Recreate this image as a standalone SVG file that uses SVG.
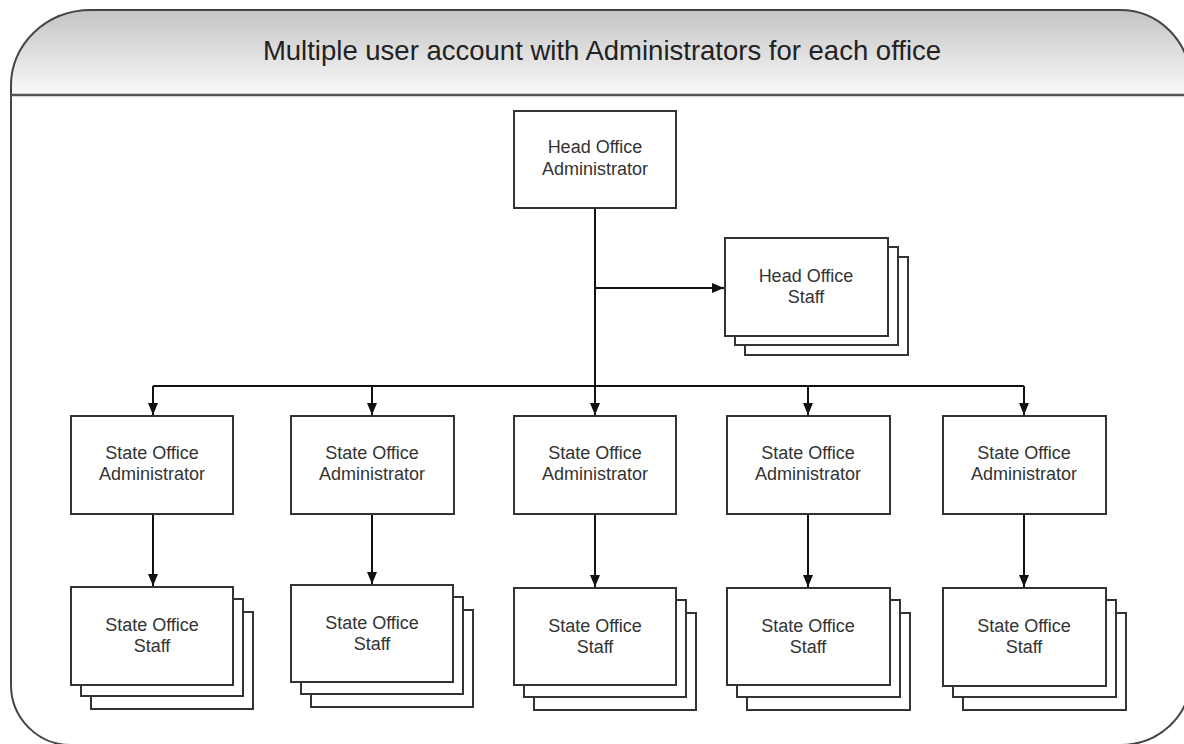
<svg xmlns="http://www.w3.org/2000/svg" width="1184" height="744" viewBox="0 0 1184 744">
<defs>
<linearGradient id="hdr" x1="0" y1="0" x2="0" y2="1">
<stop offset="0" stop-color="#c4c4c4"/>
<stop offset="1" stop-color="#f9f9f9"/>
</linearGradient>
<marker id="arr" markerUnits="userSpaceOnUse" markerWidth="12" markerHeight="10" refX="12" refY="5" orient="auto">
<path d="M0,0 L12,5 L0,10 Z" fill="#111"/>
</marker>
</defs>
<style>
.box{fill:#fff;stroke:#333;stroke-width:2}
.lbl{font-family:"Liberation Sans",Arial,sans-serif;font-size:18px;fill:#333;text-anchor:middle}
.con{fill:none;stroke:#111;stroke-width:2}
.con2{fill:none;stroke:#111;stroke-width:2;marker-end:url(#arr)}
</style>
<rect width="1184" height="744" fill="#fff"/>
<g id="frame">
<path d="M11,95 L11,85 A80,75 0 0 1 91,10 L1120,10 A70,70 0 0 1 1190,80 L1190,95 Z" fill="url(#hdr)"/>
<path d="M11,85 A80,75 0 0 1 91,10 L1120,10 A70,70 0 0 1 1190,80 L1190,680 A70,65 0 0 1 1120,745 L70,745 A60,60 0 0 1 11,685 Z" fill="none" stroke="#444" stroke-width="2"/>
<line x1="11" y1="95" x2="1190" y2="95" stroke="#555" stroke-width="2.5"/>
<text x="602" y="60" font-family="Liberation Sans, Arial, sans-serif" font-size="27.5" fill="#222" text-anchor="middle">Multiple user account with Administrators for each office</text>
</g>
<g id="connectors">
<path class="con2" d="M595,208 V415"/>
<path class="con2" d="M595,288 H724"/>
<path class="con" d="M153,386 H1024"/>
<path class="con2" d="M153,386 V415"/>
<path class="con2" d="M372,386 V415"/>
<path class="con2" d="M808,386 V415"/>
<path class="con2" d="M1024,386 V415"/>
<path class="con2" d="M153,514 V586"/>
<path class="con2" d="M372,514 V584"/>
<path class="con2" d="M595,514 V587"/>
<path class="con2" d="M808,514 V587"/>
<path class="con2" d="M1024,514 V587"/>
</g>
<g id="head-admin">
<rect class="box" x="514" y="111" width="162" height="97"/>
<text class="lbl" x="595" y="153">Head Office</text>
<text class="lbl" x="595" y="175">Administrator</text>
</g>
<g id="head-staff">
<rect class="box" x="745" y="257" width="163" height="98"/>
<rect class="box" x="735" y="247" width="163" height="98"/>
<rect class="box" x="725" y="238" width="163" height="98"/>
<text class="lbl" x="806" y="282">Head Office</text>
<text class="lbl" x="806" y="303">Staff</text>
</g>
<g id="state-admin-1">
<rect class="box" x="71" y="416" width="162" height="98"/>
<text class="lbl" x="152" y="459">State Office</text>
<text class="lbl" x="152" y="480">Administrator</text>
</g>
<g id="state-admin-2">
<rect class="box" x="291" y="416" width="163" height="98"/>
<text class="lbl" x="372" y="459">State Office</text>
<text class="lbl" x="372" y="480">Administrator</text>
</g>
<g id="state-admin-3">
<rect class="box" x="514" y="416" width="162" height="98"/>
<text class="lbl" x="595" y="459">State Office</text>
<text class="lbl" x="595" y="480">Administrator</text>
</g>
<g id="state-admin-4">
<rect class="box" x="727" y="416" width="163" height="98"/>
<text class="lbl" x="808" y="459">State Office</text>
<text class="lbl" x="808" y="480">Administrator</text>
</g>
<g id="state-admin-5">
<rect class="box" x="943" y="416" width="163" height="98"/>
<text class="lbl" x="1024" y="459">State Office</text>
<text class="lbl" x="1024" y="480">Administrator</text>
</g>
<g id="state-staff-1">
<rect class="box" x="91" y="612" width="162" height="97"/>
<rect class="box" x="81" y="599" width="162" height="97"/>
<rect class="box" x="71" y="587" width="162" height="98"/>
<text class="lbl" x="152" y="631">State Office</text>
<text class="lbl" x="152" y="652">Staff</text>
</g>
<g id="state-staff-2">
<rect class="box" x="311" y="610" width="162" height="97"/>
<rect class="box" x="301" y="597" width="162" height="97"/>
<rect class="box" x="291" y="585" width="162" height="97"/>
<text class="lbl" x="372" y="629">State Office</text>
<text class="lbl" x="372" y="650">Staff</text>
</g>
<g id="state-staff-3">
<rect class="box" x="534" y="613" width="162" height="97"/>
<rect class="box" x="524" y="600" width="162" height="97"/>
<rect class="box" x="514" y="588" width="162" height="97"/>
<text class="lbl" x="595" y="632">State Office</text>
<text class="lbl" x="595" y="653">Staff</text>
</g>
<g id="state-staff-4">
<rect class="box" x="747" y="613" width="163" height="97"/>
<rect class="box" x="737" y="600" width="163" height="97"/>
<rect class="box" x="727" y="588" width="163" height="97"/>
<text class="lbl" x="808" y="632">State Office</text>
<text class="lbl" x="808" y="653">Staff</text>
</g>
<g id="state-staff-5">
<rect class="box" x="963" y="613" width="163" height="97"/>
<rect class="box" x="953" y="600" width="163" height="97"/>
<rect class="box" x="943" y="588" width="163" height="98"/>
<text class="lbl" x="1024" y="632">State Office</text>
<text class="lbl" x="1024" y="653">Staff</text>
</g>
</svg>
